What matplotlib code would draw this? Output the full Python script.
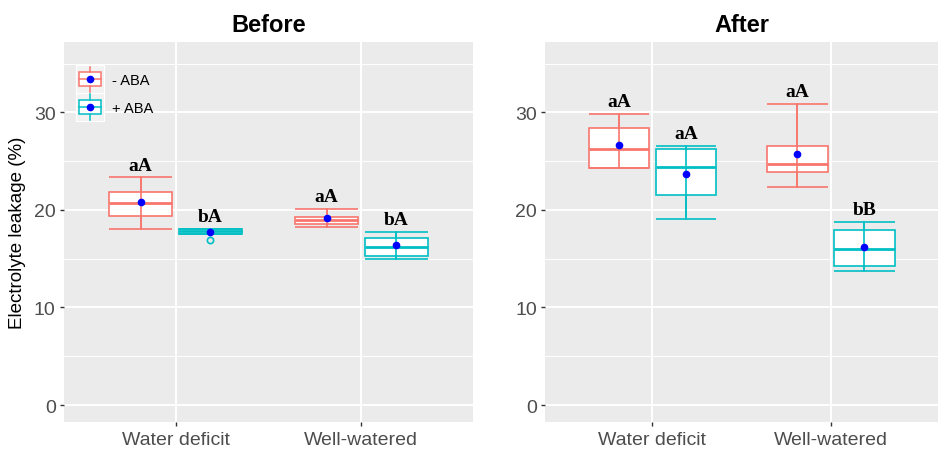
import matplotlib
matplotlib.use("Agg")
import matplotlib.pyplot as plt
from matplotlib.legend_handler import HandlerBase
from matplotlib.patches import Patch, Rectangle
from matplotlib.lines import Line2D

plt.rcParams["font.family"] = ["Liberation Sans", "DejaVu Sans"]

categories = ["Water deficit", "Well-watered"]
treatments = ["- ABA", "+ ABA"]
colors = ["#F8766D", "#00BFC4"]

# box statistics, indexed [category][treatment]
before_whislo = [[18.09, 17.58], [18.23, 14.97]]
before_q1 = [[19.39, 17.58], [18.57, 15.31]]
before_med = [[20.68, 17.86], [19.00, 16.22]]
before_q3 = [[21.81, 18.09], [19.26, 17.11]]
before_whishi = [[23.34, 18.09], [20.07, 17.79]]
before_mean = [[20.79, 17.72], [19.15, 16.36]]
before_fliers = [[[], [16.91]], [[], []]]
before_letters = [["aA", "bA"], ["aA", "bA"]]

after_whislo = [[24.32, 19.08], [22.35, 13.70]]
after_q1 = [[24.32, 21.53], [23.85, 14.21]]
after_med = [[26.22, 24.42], [24.66, 16.02]]
after_q3 = [[28.37, 26.26], [26.56, 17.93]]
after_whishi = [[29.87, 26.60], [30.85, 18.74]]
after_mean = [[26.70, 23.70], [25.71, 16.22]]
after_fliers = [[[], []], [[], []]]
after_letters = [["aA", "aA"], ["aA", "bB"]]

box_width = 0.3375
dodge = 0.1875


class BoxKey(HandlerBase):
    # square boxplot glyph for legend keys
    def create_artists(self, legend, orig_handle, xdescent, ydescent,
                       width, height, fontsize, trans):
        c = orig_handle.get_edgecolor()
        size = width
        x0 = -xdescent
        y0 = -ydescent + height / 2 - size / 2
        cx, cy = x0 + size / 2, y0 + size / 2
        bg = Rectangle((x0, y0), size, size, facecolor="#F2F2F2",
                       edgecolor="white", lw=0.8, transform=trans)
        box = Rectangle((x0 + 0.1 * size, y0 + 0.25 * size), 0.8 * size,
                        0.5 * size, facecolor="white", edgecolor=c, lw=1.1,
                        transform=trans)
        med = Line2D([x0 + 0.1 * size, x0 + 0.9 * size], [cy, cy],
                     color=c, lw=1.1, transform=trans)
        wt = Line2D([cx, cx], [y0 + 0.75 * size, y0 + 0.95 * size],
                    color=c, lw=1.1, transform=trans)
        wb = Line2D([cx, cx], [y0 + 0.05 * size, y0 + 0.25 * size],
                    color=c, lw=1.1, transform=trans)
        pt = Line2D([cx], [cy], marker="o", color="blue", ms=4.5,
                    transform=trans)
        return [bg, box, med, wt, wb, pt]


def panel(ax, title, whislo, q1, med, q3, whishi, means, fliers, letters):
    ax.set_facecolor("#EBEBEB")
    for s in ax.spines.values():
        s.set_visible(False)
    for i in range(len(categories)):
        for j in range(len(treatments)):
            pos = i + 1 + (j - 0.5) * 2 * dodge
            stats = [dict(whislo=whislo[i][j], q1=q1[i][j], med=med[i][j],
                          q3=q3[i][j], whishi=whishi[i][j], mean=means[i][j],
                          fliers=fliers[i][j])]
            c = colors[j]
            ax.bxp(stats, positions=[pos], widths=box_width, patch_artist=True,
                   showcaps=False, showmeans=False, manage_ticks=False,
                   boxprops=dict(facecolor="white", edgecolor=c, lw=1.2),
                   medianprops=dict(color=c, lw=2.0),
                   whiskerprops=dict(color=c, lw=1.2),
                   flierprops=dict(marker="o", mfc="none", mec=c, ms=4.5, mew=1.2),
                   zorder=3)
            # error bar through the box with caps
            ax.vlines(pos, whislo[i][j], whishi[i][j], color=c, lw=1.2, zorder=4)
            ax.hlines([whislo[i][j], whishi[i][j]], pos - box_width / 2,
                      pos + box_width / 2, color=c, lw=1.2, zorder=4)
            ax.plot([pos], [means[i][j]], "o", color="blue", ms=4.5, zorder=5)
            ax.text(pos, whishi[i][j] + 0.8, letters[i][j], ha="center",
                    va="baseline", fontsize=14, fontweight="bold",
                    family=["Liberation Serif", "DejaVu Serif"], zorder=5)
    ax.set_xlim(0.4, 2.6)
    ax.set_ylim(-1.77, 37.2)
    ax.set_xticks([1, 2])
    ax.set_xticklabels(categories)
    ax.set_yticks([0, 10, 20, 30])
    ax.set_yticks([5, 15, 25, 35], minor=True)
    ax.grid(True, which="major", color="white", lw=1.4)
    ax.grid(True, which="minor", axis="y", color="white", lw=0.7)
    ax.set_axisbelow(True)
    ax.tick_params(which="major", length=3, width=1, color="#333333",
                   labelcolor="#4D4D4D", labelsize=14, pad=3)
    ax.tick_params(which="minor", length=0)
    ax.set_title(title, fontsize=17, fontweight="bold", pad=8)


fig = plt.figure(figsize=(9.4, 4.52), dpi=100)
ax1 = fig.add_axes([0.0681, 0.0635, 0.435, 0.841])
ax2 = fig.add_axes([0.580, 0.0635, 0.418, 0.841])

panel(ax1, "Before", before_whislo, before_q1, before_med, before_q3,
      before_whishi, before_mean, before_fliers, before_letters)
panel(ax2, "After", after_whislo, after_q1, after_med, after_q3,
      after_whishi, after_mean, after_fliers, after_letters)

ax1.set_ylabel("Electrolyte leakage (%)", fontsize=13.5, labelpad=6)

handles = [Patch(edgecolor=c, facecolor="white", label=t)
           for c, t in zip(colors, treatments)]
ax1.legend(handles=handles, handler_map={Patch: BoxKey()}, loc="upper left",
           bbox_to_anchor=(0.029, 0.918), frameon=False, fontsize=10.5,
           handlelength=1.92, labelspacing=0.95,
           handletextpad=0.55, borderpad=0, borderaxespad=0)

fig.savefig("out.png", dpi=100)
